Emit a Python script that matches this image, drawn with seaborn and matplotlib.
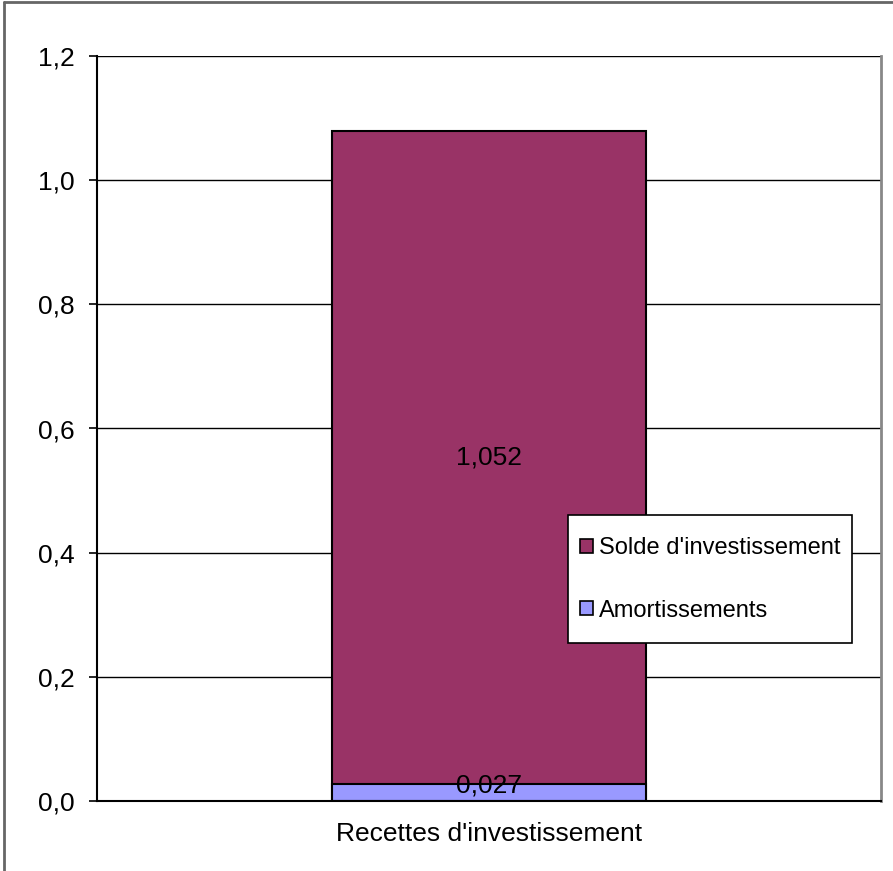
import matplotlib
matplotlib.use("Agg")
import matplotlib.pyplot as plt
import seaborn as sns
import pandas as pd
from matplotlib.patches import Patch, Rectangle
from matplotlib.lines import Line2D

categories = ["Recettes d'investissement"]
amortissements = [0.027]
solde = [1.052]
series_names = ["Solde d'investissement", "Amortissements"]
yticks = [0.0, 0.2, 0.4, 0.6, 0.8, 1.0, 1.2]
ytick_labels = ["0,0", "0,2", "0,4", "0,6", "0,8", "1,0", "1,2"]
solde_label = "1,052"
amort_label = "0,027"

c_solde = "#993366"
c_amort = "#9999FF"

sns.set_style("white")
plt.rcParams['font.family'] = ['Liberation Sans', 'DejaVu Sans']
plt.rcParams['text.color'] = 'black'
plt.rcParams['xtick.color'] = 'black'
plt.rcParams['ytick.color'] = 'black'
plt.rcParams['xtick.labelcolor'] = 'black'
plt.rcParams['ytick.labelcolor'] = 'black'

fig = plt.figure(figsize=(8.93, 8.71), dpi=100)
ax = fig.add_axes([97/893, 1-801/871, (881-97)/893, (801-56)/871])

df_total = pd.DataFrame({"cat": categories, "val": [a + s for a, s in zip(amortissements, solde)]})
df_amort = pd.DataFrame({"cat": categories, "val": amortissements})

sns.barplot(data=df_total, x="cat", y="val", color=c_solde, saturation=1, width=0.4,
            edgecolor="black", linewidth=1.5, ax=ax, zorder=3)
sns.barplot(data=df_amort, x="cat", y="val", color=c_amort, saturation=1, width=0.4,
            edgecolor="black", linewidth=1.5, ax=ax, zorder=4)

ax.set_xlim(-0.5, 0.5)
ax.set_ylim(0, 1.2)
ax.set_yticks(yticks)
ax.set_yticklabels(ytick_labels, fontsize=19)
ax.tick_params(axis='y', which='major', direction='out', length=6, width=1.2, color='black', left=True, pad=10)
ax.tick_params(axis='x', length=0, labelsize=19, pad=15)
ax.set_xlabel("")
ax.set_ylabel("")
ax.yaxis.grid(True, color='black', linewidth=1.0, zorder=0)
ax.set_axisbelow(True)

for side in ["left", "bottom"]:
    ax.spines[side].set_color("black")
    ax.spines[side].set_linewidth(1.5)
    ax.spines[side].set_zorder(5)
ax.spines["top"].set_visible(False)
ax.spines["right"].set_color("#888888")
ax.spines["right"].set_linewidth(2)

# value labels
ax.text(0, amortissements[0] + solde[0] / 2, solde_label, ha='center', va='center', fontsize=19, zorder=6)
ax.text(0, amortissements[0] / 2 + 0.012, amort_label, ha='center', va='center', fontsize=19, zorder=6)

# legend box
ax.add_patch(Rectangle((0.6008, 0.2121), 0.963 - 0.6008, 0.3839 - 0.2121, transform=ax.transAxes,
                       facecolor='white', edgecolor='black', linewidth=1.2, zorder=9, clip_on=False))
handles = [Patch(facecolor=c_solde, edgecolor='black', linewidth=1.2),
           Patch(facecolor=c_amort, edgecolor='black', linewidth=1.2)]
leg = ax.legend(handles, series_names, loc='upper left', bbox_to_anchor=(0.616, 0.3537),
                fontsize=17, frameon=False, labelspacing=1.7, handlelength=0.55, handleheight=0.55,
                handletextpad=0.25, borderpad=0, borderaxespad=0)
leg.set_zorder(10)

# outer chart border
fig.add_artist(Line2D([4/893, 4/893], [0, 1-2/871], color='#666666', linewidth=2, transform=fig.transFigure))
fig.add_artist(Line2D([4/893, 1], [1-2/871, 1-2/871], color='#666666', linewidth=2, transform=fig.transFigure))

fig.savefig("out.png", dpi=100)
